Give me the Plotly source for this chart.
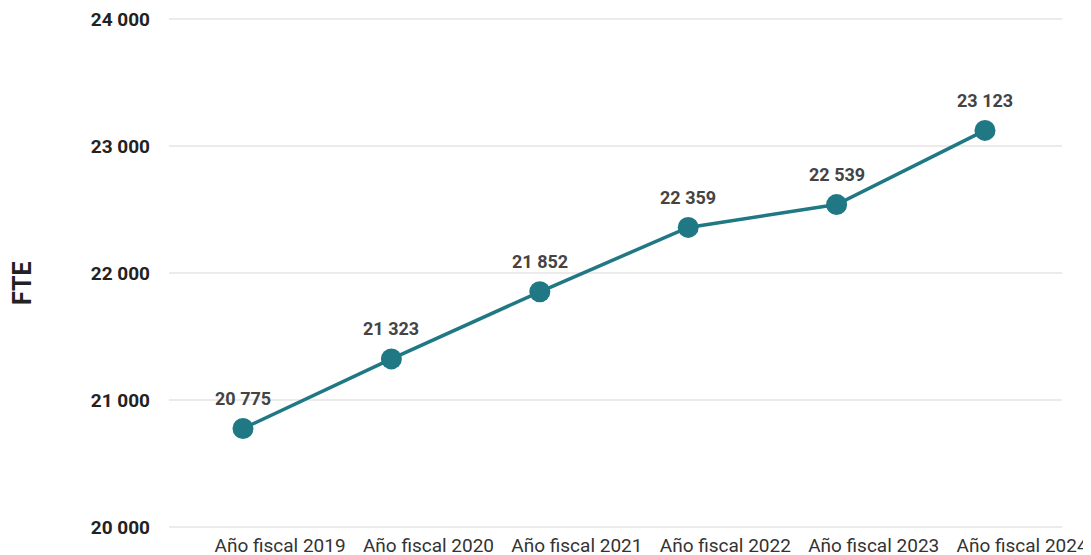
import plotly.graph_objects as go

categories = ["Año fiscal 2019", "Año fiscal 2020", "Año fiscal 2021",
              "Año fiscal 2022", "Año fiscal 2023", "Año fiscal 2024"]
fte = [20775, 21323, 21852, 22359, 22539, 23123]
y_ticks = [20000, 21000, 22000, 23000, 24000]
y_tick_labels = ["20 000", "21 000", "22 000", "23 000", "24 000"]

def fmt(v):
    return f"{v:,}".replace(",", " ")

W, H = 1091, 555
L, R, T, B = 161, 37, 6, 31

xs = list(range(len(categories)))

fig = go.Figure()
fig.add_trace(go.Scatter(
    x=xs, y=fte, mode="lines+markers",
    line=dict(color="#1f7884", width=3.5),
    marker=dict(color="#1f7884", size=21),
    hoverinfo="skip", showlegend=False,
))

for x, v in zip(xs, fte):
    fig.add_annotation(x=x, y=v, text=fmt(v), showarrow=False,
                       yshift=30, font=dict(family="Roboto", size=18, color="#444444",
                                            weight="bold"))

fig.add_annotation(xref="paper", yref="paper",
                   x=(22 - 8 - L) / (W - L - R), y=(H - B - (283 - 8)) / (H - T - B),
                   text="<b>FTE</b>", textangle=-90, showarrow=False,
                   font=dict(family="Roboto", size=25, color="#222222"),
                   xanchor="center", yanchor="middle")

fig.update_layout(
    width=W, height=H,
    margin=dict(l=L, r=R, t=T, b=B, autoexpand=False),
    paper_bgcolor="white", plot_bgcolor="white",
    font=dict(family="Roboto", color="#333333"),
    xaxis=dict(range=[-0.4987, 5.519], tickmode="array",
               tickvals=[x + 0.25 for x in xs], ticktext=categories,
               showgrid=False, zeroline=False, showline=False,
               tickfont=dict(family="Roboto", size=19, color="#333333"),
               ticklabelstandoff=0,
               ticklabeloverflow="allow", automargin=False, fixedrange=True),
    yaxis=dict(range=[19960, 24040], tickmode="array",
               tickvals=y_ticks, ticktext=y_tick_labels,
               showgrid=True, gridcolor="#ebebeb", gridwidth=1.5,
               zeroline=False, showline=False,
               tickfont=dict(family="Roboto", size=19, color="#222222", weight="bold"),
               ticklabelstandoff=18, ticklabeloverflow="allow",
               automargin=False, fixedrange=True),
)

fig.write_html("out.html")
